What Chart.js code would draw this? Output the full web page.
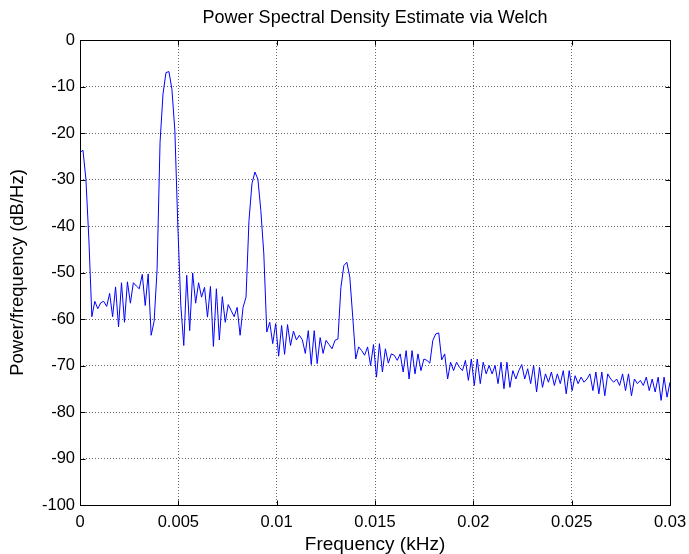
<!DOCTYPE html>
<html>
<head>
<meta charset="utf-8">
<title>PSD Welch</title>
<script src="https://cdn.jsdelivr.net/npm/chart.js@4.4.0/dist/chart.umd.min.js"></script>
<style>
  html, body { margin: 0; padding: 0; background: #fff; }
  #wrap { width: 689px; height: 554px; }
</style>
</head>
<body>
<div id="wrap"><canvas id="psdChart" width="689" height="554"></canvas></div>
<script>
// Welch PSD estimate, dB/Hz, evenly spaced bins from 0 to fMax (kHz)
const fMax = 0.03;
const psdDb = [
  -24.2, -23.7, -30, -43, -59.5, -56.2, -57.8, -56.5, -56.2, -57.3,
  -54.5, -59.5, -53.1, -61.7, -52.2, -60.7, -52, -56.6, -52.2, -52.9,
  -53.5, -50.4, -57.1, -50.3, -63.5, -60.5, -49.4, -22, -11.6, -7,
  -6.8, -10.6, -19.5, -40, -57, -65.7, -50.6, -62.5, -50.1, -56.6,
  -52.2, -55.3, -53.2, -59.6, -53, -65.9, -53.5, -64.5, -55.2, -60.7,
  -56.9, -58.2, -59.5, -57.5, -63.5, -57.5, -55.3, -38.8, -30.9, -28.4,
  -29.9, -36.7, -46, -62.8, -60.7, -65.3, -61, -68, -61.4, -67.6,
  -61.2, -65.7, -62.6, -64.5, -63.5, -64.5, -67.4, -62.5, -69.8, -62.5,
  -69.6, -64, -67.4, -64.6, -65.5, -66.4, -64.6, -64.3, -53.2, -48.5,
  -47.8, -51, -59.6, -68.6, -66, -66.8, -67.8, -66, -70, -65.5,
  -72.5, -65.3, -71.4, -66.4, -69.5, -67.5, -67.8, -68.9, -67.5, -71.4,
  -66.8, -72.9, -66.8, -71.8, -67.5, -71.1, -68.6, -68.9, -69.5, -64.6,
  -63.2, -63, -68.8, -67.5, -72.9, -69.3, -71.1, -69.3, -70.4, -71.1,
  -68.9, -73.2, -68.6, -74.3, -68.6, -73.9, -69.3, -71.8, -70, -71.8,
  -70, -73.9, -69.3, -75, -69.3, -74.7, -71.1, -72.9, -71.1, -69.8,
  -72.9, -70.7, -73.9, -70, -75.7, -70.4, -74.7, -71.8, -73.6, -71.4,
  -74.3, -71.8, -73.9, -71.1, -76.1, -71.1, -75.4, -72.2, -73.9, -72.5,
  -73.6, -72.9, -71.8, -75.4, -71.4, -76.1, -71.4, -76.5, -71.8, -72.9,
  -73.6, -72.9, -74.3, -71.8, -75.4, -71.8, -76.5, -72.9, -73.9, -73.2,
  -74.3, -72.5, -75.4, -72.9, -75.7, -72.5, -77.5, -72.5, -76.8, -73.6
];

const xTicks = [0, 0.005, 0.01, 0.015, 0.02, 0.025, 0.03];
const xTickLabels = ['0', '0.005', '0.01', '0.015', '0.02', '0.025', '0.03'];
const yTicks = [-100, -90, -80, -70, -60, -50, -40, -30, -20, -10, 0];
const yTickLabels = ['-100', '-90', '-80', '-70', '-60', '-50', '-40', '-30', '-20', '-10', '0'];

const points = psdDb.map((v, i) => ({ x: i * fMax / (psdDb.length - 1), y: v }));

const fontFam = '"Liberation Sans", Arial, Helvetica, sans-serif';

// black frame around the axes with short inward tick marks on all four sides
const boxPlugin = {
  id: 'box',
  afterDatasetsDraw(chart) {
    const { ctx, chartArea: a, scales } = chart;
    const x = scales.x, y = scales.y;
    const L = Math.round(a.left) + 0.5, R = Math.round(a.right) + 0.5;
    const T = Math.round(a.top) + 0.5, B = Math.round(a.bottom) + 0.5;
    ctx.save();
    ctx.strokeStyle = '#000';
    ctx.lineWidth = 1;
    ctx.beginPath();
    ctx.rect(L, T, R - L, B - T);
    x.ticks.forEach(t => {
      const px = Math.round(x.getPixelForValue(t.value)) + 0.5;
      ctx.moveTo(px, B); ctx.lineTo(px, B - 5);
      ctx.moveTo(px, T); ctx.lineTo(px, T + 5);
    });
    y.ticks.forEach(t => {
      const py = Math.round(y.getPixelForValue(t.value)) + 0.5;
      ctx.moveTo(L, py); ctx.lineTo(L + 5, py);
      ctx.moveTo(R, py); ctx.lineTo(R - 5, py);
    });
    ctx.stroke();
    ctx.restore();
  }
};

const gridStyle = { color: 'rgba(0,0,0,0.6)', lineWidth: 1, drawTicks: false };

// horizontal axes keep no extra side padding for their end labels
const fitHorizontal = h => s => {
  s.height = h;
  s.paddingLeft = 0;
  s.paddingRight = 0;
};

new Chart(document.getElementById('psdChart'), {
  type: 'line',
  data: {
    datasets: [{
      data: points,
      borderColor: '#0000ff',
      borderWidth: 1,
      pointRadius: 0,
      tension: 0,
      fill: false
    }]
  },
  options: {
    responsive: false,
    animation: false,
    devicePixelRatio: 1,
    layout: { padding: { left: 0, right: 19, top: 0, bottom: 0 } },
    plugins: {
      legend: { display: false },
      tooltip: { enabled: false },
      title: { display: false }
    },
    scales: {
      // top axis only carries the plot title, centred over the axes
      top: {
        type: 'linear',
        position: 'top',
        min: 0,
        max: 0.03,
        afterFit: fitHorizontal(40),
        grid: { display: false, drawTicks: false },
        border: { display: false },
        ticks: { display: false },
        title: {
          display: true,
          text: 'Power Spectral Density Estimate via Welch',
          color: '#000',
          font: { family: fontFam, size: 18, lineHeight: 1.2 },
          padding: { top: 7, bottom: 0 }
        }
      },
      x: {
        type: 'linear',
        position: 'bottom',
        min: 0,
        max: 0.03,
        afterBuildTicks: s => { s.ticks = xTicks.map(v => ({ value: v })); },
        afterFit: fitHorizontal(49),
        grid: gridStyle,
        border: { display: false, dash: [1, 2] },
        ticks: {
          color: '#000',
          padding: 8,
          maxRotation: 0,
          font: { family: fontFam, size: 16.5 },
          callback: v => xTickLabels[xTicks.indexOf(v)]
        },
        title: {
          display: true,
          text: 'Frequency (kHz)',
          color: '#000',
          font: { family: fontFam, size: 19, lineHeight: 1 },
          padding: { top: 0, bottom: 0 }
        }
      },
      y: {
        type: 'linear',
        min: -100,
        max: 0,
        afterBuildTicks: s => { s.ticks = yTicks.map(v => ({ value: v })); },
        afterFit: s => { s.width = 80; },
        grid: gridStyle,
        border: { display: false, dash: [1, 2] },
        ticks: {
          color: '#000',
          padding: 5,
          font: { family: fontFam, size: 16.5 },
          callback: v => yTickLabels[yTicks.indexOf(v)]
        },
        title: {
          display: true,
          text: 'Power/frequency (dB/Hz)',
          color: '#000',
          font: { family: fontFam, size: 18.5, lineHeight: 1 },
          padding: { top: 9, bottom: 0 }
        }
      }
    }
  },
  plugins: [boxPlugin]
});
</script>
</body>
</html>
